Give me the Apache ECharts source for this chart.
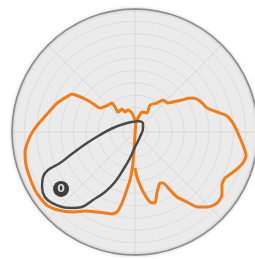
<!DOCTYPE html>
<html>
<head>
<meta charset="utf-8">
<script src="https://cdn.jsdelivr.net/npm/echarts@6/dist/echarts.min.js"></script>
<style>
  html, body { margin: 0; padding: 0; background: #fff; }
  #chart { width: 255px; height: 259px; }
</style>
</head>
<body>
<div id="chart"></div>
<script>
// angle in degrees clockwise from top, radius in ring units (10 rings)
var orangeAngle = [0, 351.0, 342.4, 333.4, 330.5, 319.6, 321.3, 321.6, 315, 304.4,
  304.0, 303.4, 302.3, 301.1, 298.2, 294.6, 289.5, 282.3, 276.0, 270.6,
  265.2, 259.7, 253.2, 246.3, 239.9, 234.5, 229.6, 224.6, 218.2, 212.3,
  205.4, 200.3, 195.7, 192.7, 190.4, 188.5, 185.9, 184.5, 183.7, 183.2,
  180, 5.7, 12.1, 19.3, 32.3, 29.1, 37.2, 41.2, 48.7, 51.7,
  55.8, 58.3, 62.0, 66.6, 71.6, 76.3, 80.1, 84.8, 90.6, 96.9,
  101.7, 106.0, 109.3, 112.9, 117.1, 121.4, 125.9, 130.9, 135.8, 140.0,
  143.4, 147.1, 148.9, 151.2, 153.9, 160.2, 164.3, 167.9, 171.0, 174.6,
  177.5, 180];
var orangeRadius = [0.98, 1.56, 1.88, 1.82, 2.15, 2.13, 2.60, 3.01, 3.10, 3.45,
  4.22, 4.87, 5.48, 5.98, 6.18, 6.44, 6.81, 7.24, 7.77, 8.29,
  8.73, 9.09, 9.26, 9.32, 9.40, 9.38, 9.29, 8.91, 8.28, 7.60,
  7.20, 7.02, 6.92, 6.67, 5.87, 4.93, 3.92, 3.10, 2.53, 1.47,
  0.24, 0.82, 1.16, 1.72, 1.83, 2.51, 2.96, 3.46, 3.57, 3.94,
  4.62, 5.26, 5.71, 5.94, 6.17, 6.86, 7.59, 8.00, 8.37, 8.84,
  9.22, 9.13, 8.87, 8.56, 8.22, 8.28, 8.73, 8.82, 8.51, 7.96,
  7.09, 6.29, 5.51, 4.73, 4.62, 5.27, 6.00, 5.82, 5.19, 4.33,
  3.66, 2.93];

var grayAngle = [15.3, 318.4, 280.3, 265.1, 257.1, 251.3, 247.5, 246.4, 243.9, 239.4,
  234.2, 229.5, 224.2, 219.7, 215.3, 211.7, 206.6, 201.8, 197.5, 190.9,
  180, 135, 63.4, 45, 35.0, 15.3];
var grayRadius = [0.93, 0.98, 1.82, 2.86, 4.00, 5.32, 6.60, 7.72, 8.33, 8.78,
  9.03, 8.88, 8.51, 8.03, 7.47, 6.50, 5.45, 4.38, 3.24, 2.15,
  1.22, 0.57, 0.73, 0.92, 0.99, 0.93];

var markerAngle = [232.4];
var markerRadius = [7.59];
var markerLabel = ['0'];

function pairs(rs, as) {
  return rs.map(function (r, i) { return [r, as[i]]; });
}

var hidden = { axisTick: { show: false }, axisLabel: { show: false } };

var chart = echarts.init(document.getElementById('chart'));
chart.setOption({
  animation: false,
  // polar 0 = grey disc with border, polar 1 = grid lines + data
  polar: [
    { center: [135, 132], radius: 123 },
    { center: [135, 132], radius: 123 }
  ],
  angleAxis: [
    Object.assign({
      polarIndex: 0, type: 'value', min: 0, max: 360, startAngle: 90,
      axisLine: { lineStyle: { color: '#8a8a8a', width: 1.5, shadowColor: 'rgba(0,0,0,0.3)', shadowBlur: 3 } },
      splitLine: { show: false }
    }, hidden),
    Object.assign({
      polarIndex: 1, type: 'value', min: 0, max: 360, interval: 45, startAngle: 90,
      axisLine: { show: false },
      splitLine: { show: true, lineStyle: { color: '#d8d8d8', width: 1 } }
    }, hidden)
  ],
  radiusAxis: [
    Object.assign({
      polarIndex: 0, type: 'value', min: 0, max: 10, interval: 10,
      axisLine: { show: false },
      splitLine: { show: false },
      splitArea: { show: true, areaStyle: { color: ['#ebebeb'] } }
    }, hidden),
    Object.assign({
      polarIndex: 1, type: 'value', min: 0, max: 10, interval: 1,
      axisLine: { show: false },
      splitLine: { show: true, lineStyle: { color: '#dddddd', width: 1 } }
    }, hidden)
  ],
  series: [
    {
      type: 'line', coordinateSystem: 'polar', polarIndex: 1,
      data: pairs(orangeRadius, orangeAngle),
      showSymbol: false, smooth: 0.2,
      lineStyle: { color: '#f07d1a', width: 3 }
    },
    {
      type: 'line', coordinateSystem: 'polar', polarIndex: 1,
      data: pairs(grayRadius, grayAngle),
      showSymbol: false, smooth: 0.4,
      lineStyle: { color: '#4a4a4a', width: 2.5 }
    },
    {
      type: 'scatter', coordinateSystem: 'polar', polarIndex: 1,
      data: pairs(markerRadius, markerAngle),
      symbolSize: 16,
      itemStyle: { color: '#111' },
      label: {
        show: true, position: 'inside',
        formatter: function (p) { return markerLabel[p.dataIndex]; },
        color: '#fff', fontSize: 11, fontWeight: 'bold', fontFamily: 'DejaVu Sans'
      }
    }
  ]
});
</script>
</body>
</html>
